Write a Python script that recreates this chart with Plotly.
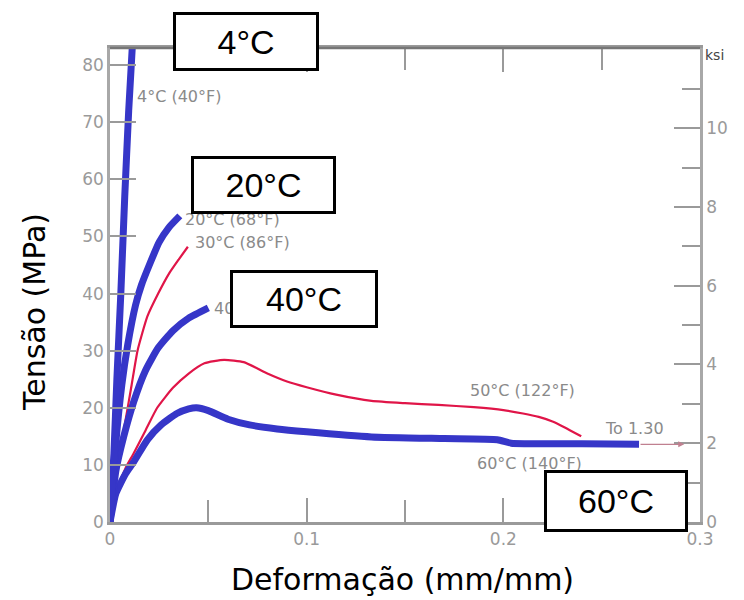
import plotly.graph_objects as go

# ---------------- data (strain mm/mm, stress MPa) ----------------
x_4c = [0, 0.002, 0.0035, 0.0055, 0.0075, 0.0095, 0.0118]
y_4c = [0, 12, 25, 40, 57, 72, 86]

x_20c = [0, 0.003, 0.006, 0.009, 0.013, 0.016, 0.020, 0.025, 0.030, 0.0355]
y_20c = [0, 14, 24, 31, 38, 41.5, 45, 49, 51.6, 53.6]

x_30c = [0, 0.004, 0.008, 0.011, 0.014, 0.019, 0.0245, 0.030, 0.035, 0.0396]
y_30c = [0, 10, 18, 24, 30, 36, 40, 43.5, 46, 48.2]

x_40c = [0, 0.003, 0.007, 0.012, 0.018, 0.0245, 0.032, 0.040, 0.050]
y_40c = [0, 9, 15, 21, 26.5, 30.5, 33.5, 35.7, 37.5]

x_50c = [0, 0.004, 0.008, 0.012, 0.018, 0.024, 0.032, 0.040, 0.048, 0.058, 0.068,
         0.080, 0.090, 0.100, 0.115, 0.133, 0.150, 0.167, 0.185, 0.200, 0.210,
         0.218, 0.225, 0.231, 0.2396]
y_50c = [0, 6, 9.5, 12, 16, 20, 23.5, 26, 27.8, 28.4, 28,
         26, 24.6, 23.6, 22.3, 21.2, 20.8, 20.5, 20.1, 19.6, 19,
         18.4, 17.6, 16.6, 15]

x_60c = [0, 0.003, 0.008, 0.012, 0.019, 0.026, 0.034, 0.040, 0.044, 0.050, 0.060,
         0.071, 0.085, 0.100, 0.133, 0.170, 0.197, 0.204, 0.240, 0.269]
y_60c = [0, 5, 8.5, 10.5, 14.4, 17, 19, 19.8, 20, 19.5, 18,
         17, 16.3, 15.8, 14.9, 14.6, 14.4, 13.8, 13.7, 13.6]

x_ticks = [0, 0.1, 0.2, 0.3]
x_tick_labels = ["0", "0.1", "0.2", "0.3"]
y_ticks = [0, 10, 20, 30, 40, 50, 60, 70, 80]
ksi_ticks = [0, 2, 4, 6, 8, 10]
MPA_PER_KSI = 6.895
Y_MAX = 83

BLUE = "#3636c8"
RED = "#e01548"

# ---------------- figure ----------------
fig = go.Figure()

def line(x, y, color, width):
    fig.add_trace(go.Scatter(x=x, y=y, mode="lines",
                             line=dict(color=color, width=width, shape="spline", smoothing=0.5),
                             showlegend=False, hoverinfo="skip"))

line(x_50c, y_50c, RED, 2.2)
line(x_30c, y_30c, RED, 2.2)
line(x_60c, y_60c, BLUE, 7)
line(x_40c, y_40c, BLUE, 7)
line(x_20c, y_20c, BLUE, 7)
line(x_4c, y_4c, BLUE, 7)

# dummy trace to activate secondary (ksi) axis
fig.add_trace(go.Scatter(x=[None], y=[None], yaxis="y2", showlegend=False, hoverinfo="skip"))

# page offset from the default body margin
OFF = 8
W, H = 744 - OFF, 600 - OFF
# plot area in page pixels
L, R, T, B = 110, 700, 48, 522

def px(x):
    return (x - L) / (R - L)

def py(y):
    return (B - y) / (B - T)

WIDE = "DejaVu Sans, Verdana, sans-serif"
ARIAL = "Arial, Liberation Sans, sans-serif"
TICKFONT = dict(family=WIDE, size=17, color="#9a9a9a")
GRAY = "#9a9a9a"

fig.update_layout(
    template="none",
    width=W, height=H,
    margin=dict(l=L - OFF, r=W - (R - OFF), t=T - OFF, b=H - (B - OFF), pad=0),
    paper_bgcolor="white", plot_bgcolor="white",
    showlegend=False,
    xaxis=dict(range=[0, 0.3], tickvals=x_ticks, ticktext=x_tick_labels, automargin=False,
               ticks="inside", ticklen=24, tickwidth=2, tickcolor=GRAY,
               showline=True, linecolor=GRAY, linewidth=3, mirror="ticks",
               showgrid=False, zeroline=False, tickfont=TICKFONT,
               minor=dict(tickvals=[0.05, 0.15, 0.25], ticks="inside", ticklen=22,
                          tickwidth=2, tickcolor=GRAY, showgrid=False)),
    yaxis=dict(range=[0, Y_MAX], tickvals=y_ticks, automargin=False,
               ticks="inside", ticklen=26, tickwidth=2, tickcolor=GRAY,
               showline=True, linecolor="#a8a8a8", linewidth=2.5,
               showgrid=False, zeroline=False, tickfont=TICKFONT),
    yaxis2=dict(range=[0, Y_MAX / MPA_PER_KSI], tickvals=ksi_ticks, overlaying="y", side="right",
                automargin=False,
                ticks="inside", ticklen=26, tickwidth=2, tickcolor=GRAY,
                showline=True, linecolor="#a8a8a8", linewidth=2.5,
                showgrid=False, zeroline=False, tickfont=TICKFONT,
                minor=dict(tickvals=[1, 3, 5, 7, 9, 11], ticks="inside", ticklen=18,
                           tickwidth=2, tickcolor=GRAY, showgrid=False)),
    shapes=[dict(type="line", xref="paper", yref="paper", x0=0, x1=1, y0=1, y1=1,
                 line=dict(color="#767676", width=2.5), layer="above")],
)

ann = []
SMALL = dict(family=WIDE, size=16, color="#8a8a8a")

def small(text, x_left, y_mid):
    ann.append(dict(text=text, xref="paper", yref="paper", x=px(x_left), y=py(y_mid),
                    xanchor="left", yanchor="middle", showarrow=False, font=SMALL))

small("4°C (40°F)", 135, 96)
small("20°C (68°F)", 183, 219)
small("30°C (86°F)", 193, 242)
small("40°C (104°F)", 212, 308)
small("50°C (122°F)", 468, 390)
small("To 1.30", 603, 428)
small("60°C (140°F)", 475, 463)

# arrow "To 1.30"
ann.append(dict(x=0.292, y=13.6, ax=0.269, ay=13.6, xref="x", yref="y", axref="x", ayref="y",
                text="", showarrow=True, arrowhead=2, arrowsize=1, arrowwidth=1.2,
                arrowcolor="#c08090"))

# ksi unit label
ann.append(dict(text="ksi", xref="paper", yref="paper", x=px(703), y=py(55),
                xanchor="left", yanchor="middle", showarrow=False,
                font=dict(family=WIDE, size=14, color="#444444")))

BIG = dict(family=ARIAL, size=34, color="black")

def box(text, x0, y0, x1, y1):
    ann.append(dict(text=text, xref="paper", yref="paper",
                    x=px((x0 + x1) / 2), y=py((y0 + y1) / 2),
                    xanchor="center", yanchor="middle", showarrow=False,
                    width=x1 - x0 - 6, height=y1 - y0 - 6, borderpad=0,
                    bgcolor="white", bordercolor="black", borderwidth=3, font=BIG))

box("4°C", 173, 12, 319, 71)
box("20°C", 191, 156, 336, 214)
box("40°C", 230, 270, 378, 328)
box("60°C", 544, 470, 688, 532)

TITLEFONT = dict(family=WIDE, size=30, color="black")
ann.append(dict(text="Deformação (mm/mm)", xref="paper", yref="paper",
                x=px(402), y=py(579), xanchor="center", yanchor="middle",
                showarrow=False, font=TITLEFONT))
ann.append(dict(text="Tensão (MPa)", xref="paper", yref="paper",
                x=px(34), y=py(312), xanchor="center", yanchor="middle",
                showarrow=False, textangle=-90, font=TITLEFONT))

fig.update_layout(annotations=ann)

fig.write_html("out.html")
